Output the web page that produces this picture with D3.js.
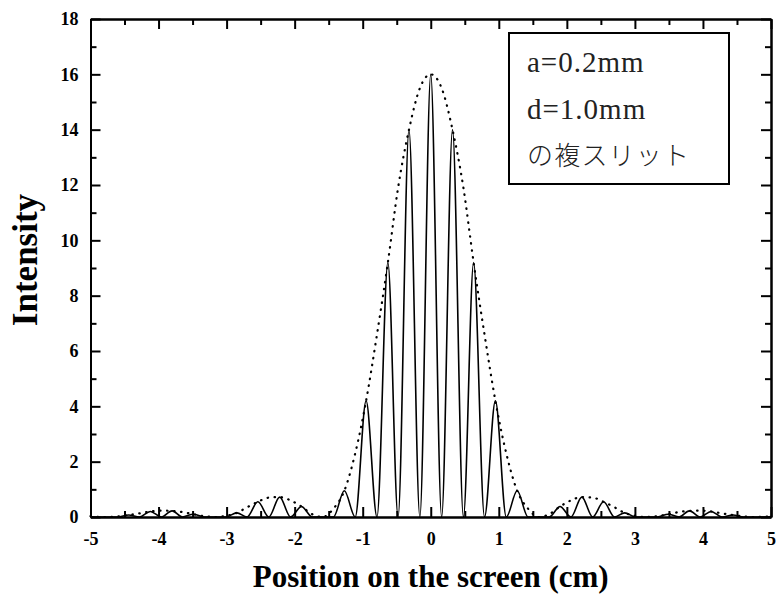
<!DOCTYPE html>
<html>
<head>
<meta charset="utf-8">
<script src="https://cdn.jsdelivr.net/npm/d3@7"></script>
<style>
  body { margin: 0; background: #fff; }
  svg { display: block; }
  .axis path, .axis line { stroke: #000; stroke-width: 2; }
  .axis text { font-family: "Liberation Serif", "Times New Roman", serif; font-weight: bold; fill: #000; }
</style>
</head>
<body>
<svg width="779" height="595"></svg>
<script>
// fringe pattern (solid) : maxima and minima
var fringeX = [-5, -4.91, -4.76, -4.60, -4.44, -4.28, -4.12, -3.96, -3.80, -3.65, -3.49, -3.33, -3.17,
  -3.01, -2.85, -2.70, -2.54, -2.38, -2.22, -2.06, -1.90, -1.74, -1.59, -1.43, -1.27, -1.11,
  -0.95, -0.79, -0.63, -0.48, -0.32, -0.16, 0, 0.16, 0.32, 0.48, 0.63, 0.79, 0.95, 1.11,
  1.27, 1.43, 1.59, 1.74, 1.90, 2.06, 2.22, 2.38, 2.54, 2.70, 2.85, 3.01, 3.17, 3.33,
  3.49, 3.65, 3.80, 3.96, 4.12, 4.28, 4.44, 4.60, 4.76, 4.91, 5];
var fringeY = [0.02, 0, 0, 0, 0.07, 0, 0.2, 0, 0.22, 0, 0.1, 0, 0,
  0, 0.15, 0, 0.55, 0, 0.72, 0, 0.38, 0, 0, 0, 0.95, 0,
  4.2, 0, 9.2, 0, 14.0, 0, 16, 0, 14.0, 0, 9.2, 0, 4.2, 0,
  0.95, 0, 0, 0, 0.38, 0, 0.72, 0, 0.55, 0, 0.15, 0, 0, 0,
  0.1, 0, 0.22, 0, 0.2, 0, 0.07, 0, 0, 0, 0.02];

// single slit envelope (dotted)
var envX = [-5, -4.91, -4.76, -4.60, -4.44, -4.28, -4.12, -3.96, -3.80, -3.65, -3.49, -3.33, -3.17,
  -3.01, -2.85, -2.70, -2.54, -2.38, -2.22, -2.06, -1.90, -1.74, -1.59, -1.43, -1.27, -1.11,
  -0.95, -0.79, -0.63, -0.48, -0.32, -0.16, 0, 0.16, 0.32, 0.48, 0.63, 0.79, 0.95, 1.11,
  1.27, 1.43, 1.59, 1.74, 1.90, 2.06, 2.22, 2.38, 2.54, 2.70, 2.85, 3.01, 3.17, 3.33,
  3.49, 3.65, 3.80, 3.96, 4.12, 4.28, 4.44, 4.60, 4.76, 4.91, 5];
var envY = [0.03, 0.01, 0, 0.02, 0.07, 0.13, 0.2, 0.23, 0.22, 0.18, 0.1, 0.03, 0,
  0.04, 0.15, 0.35, 0.55, 0.7, 0.72, 0.6, 0.38, 0.1, 0, 0.3, 0.95, 2.3,
  4.2, 6.6, 9.2, 11.9, 14.0, 15.5, 16, 15.5, 14.0, 11.9, 9.2, 6.6, 4.2, 2.3,
  0.95, 0.3, 0, 0.1, 0.38, 0.6, 0.72, 0.7, 0.55, 0.35, 0.15, 0.04, 0, 0.03,
  0.1, 0.18, 0.22, 0.23, 0.2, 0.13, 0.07, 0.02, 0, 0.01, 0.03];

var xMajor = [-5, -4, -3, -2, -1, 0, 1, 2, 3, 4, 5];
var xMinor = [-4.5, -3.5, -2.5, -1.5, -0.5, 0.5, 1.5, 2.5, 3.5, 4.5];
var yMajor = [0, 2, 4, 6, 8, 10, 12, 14, 16, 18];
var yMinor = [1, 3, 5, 7, 9, 11, 13, 15, 17];

var legendLines = ["a=0.2mm", "d=1.0mm", "の複スリット"];

var svg = d3.select("svg"),
    plotL = 90.5, plotR = 771, plotT = 19, plotB = 517;

var x = d3.scaleLinear().domain([-5, 5]).range([plotL, plotR]);
var y = d3.scaleLinear().domain([0, 18]).range([plotB, plotT]);

var fringe = fringeX.map(function(d, i) { return [d, fringeY[i]]; });
var env = envX.map(function(d, i) { return [d, envY[i]]; });

var line = d3.line()
    .x(function(d) { return x(d[0]); })
    .y(function(d) { return y(d[1]); })
    .curve(d3.curveMonotoneX);

// envelope
svg.append("path")
    .datum(env)
    .attr("d", line)
    .attr("fill", "none")
    .attr("stroke", "#000")
    .attr("stroke-width", 2.2)
    .attr("stroke-linecap", "round")
    .attr("stroke-dasharray", "0.5 6.5");

// fringes
svg.append("path")
    .datum(fringe)
    .attr("d", line)
    .attr("fill", "none")
    .attr("stroke", "#000")
    .attr("stroke-width", 1.6);

// axes, ticks pointing inward
function addAxis(axis, tx, ty, vals, size, labels) {
  var g = svg.append("g")
      .attr("class", "axis")
      .attr("transform", "translate(" + tx + "," + ty + ")")
      .call(axis.tickValues(vals).tickSizeInner(-size).tickSizeOuter(0)
        .tickPadding(labels ? 12 : 0)
        .tickFormat(labels ? d3.format("d") : ""));
  g.selectAll("text").text(function(d) { return labels ? String(d) : ""; });
  return g;
}

addAxis(d3.axisBottom(x), 0, plotB, xMajor, 10, true)
    .selectAll("text").attr("dy", "0.9em").style("font-size", "18px");
addAxis(d3.axisBottom(x), 0, plotB, xMinor, 6, false);
addAxis(d3.axisTop(x), 0, plotT, xMajor, 10, false);
addAxis(d3.axisTop(x), 0, plotT, xMinor, 6, false);
addAxis(d3.axisLeft(y), plotL, 0, yMajor, 10, true).selectAll("text").style("font-size", "18px");
addAxis(d3.axisLeft(y), plotL, 0, yMinor, 6, false);
addAxis(d3.axisRight(y), plotR, 0, yMajor, 10, false);
addAxis(d3.axisRight(y), plotR, 0, yMinor, 6, false);

// axis titles
svg.append("text")
    .attr("x", (plotL + plotR) / 2)
    .attr("y", 587)
    .attr("text-anchor", "middle")
    .style("font-family", "'Liberation Serif', serif")
    .style("font-weight", "bold")
    .style("font-size", "31px")
    .text("Position on the screen (cm)");

svg.append("text")
    .attr("transform", "translate(37,260) rotate(-90)")
    .attr("text-anchor", "middle")
    .style("font-family", "'Liberation Serif', serif")
    .style("font-weight", "bold")
    .style("font-size", "35px")
    .text("Intensity");

// legend box
svg.append("rect")
    .attr("x", 509).attr("y", 33)
    .attr("width", 220).attr("height", 151)
    .attr("fill", "#fff")
    .attr("stroke", "#000")
    .attr("stroke-width", 2);

svg.selectAll(".leg")
    .data(legendLines)
  .enter().append("text")
    .attr("class", "leg")
    .attr("x", 527)
    .attr("y", function(d, i) { return [72, 119, 165][i]; })
    .style("font-family", function(d, i) { return i < 2 ? "'Liberation Serif', serif" : "'Noto Sans CJK JP', sans-serif"; })
    .style("font-size", function(d, i) { return i < 2 ? "29px" : "26px"; })
    .style("font-weight", function(d, i) { return i < 2 ? "normal" : "300"; })
    .style("letter-spacing", function(d, i) { return i < 2 ? "1px" : "1.2px"; })
    .style("fill", "#222")
    .text(function(d) { return d; });
</script>
</body>
</html>
